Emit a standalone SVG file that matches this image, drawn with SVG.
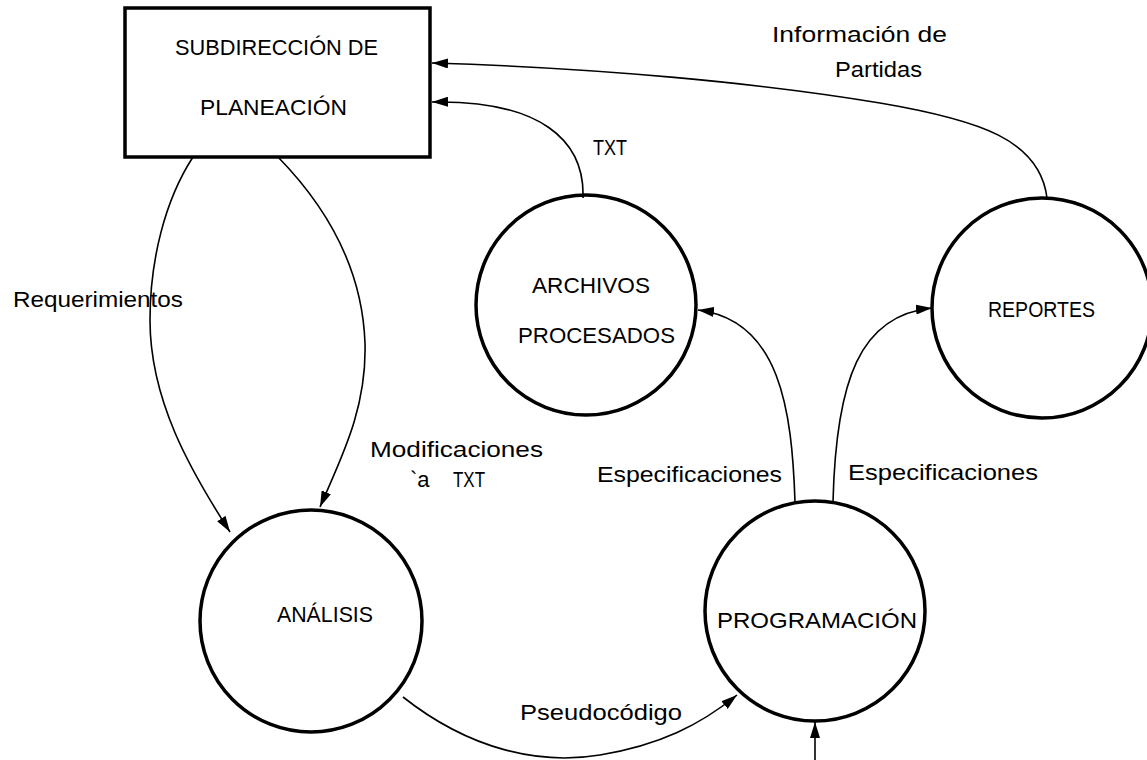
<svg xmlns="http://www.w3.org/2000/svg" width="1147" height="760" viewBox="0 0 1147 760">
  <style>
    .node { fill: none; stroke: #000; stroke-width: 3.5; }
    .lbl { font-family: "Liberation Sans", Arial, sans-serif; font-size: 22px; fill: #000; }
    .flow { fill: none; stroke: #000; stroke-width: 1.6; }
  </style>
  <defs>
    <marker id="arrow" markerUnits="userSpaceOnUse" markerWidth="17" markerHeight="10" refX="16" refY="5" orient="auto">
      <path d="M0,0 L16,5 L0,10 z" fill="#000"/>
    </marker>
  </defs>
  <rect width="1147" height="760" fill="#fff"/>

  <!-- data flows -->
  <g id="connectors">
    <path class="flow" d="M193,157 C165,200 150,260 150,320 C150,400 190,470 230,532" marker-end="url(#arrow)"/>
    <path class="flow" d="M278,157 C320,200 362,260 365,343 C367,410 340,460 320,507" marker-end="url(#arrow)"/>
    <path class="flow" d="M583,198 C585,140 540,100 432,102" marker-end="url(#arrow)"/>
    <path class="flow" d="M1047,198 C1040,140 980,120 880,103 C760,83 600,68 432,63" marker-end="url(#arrow)"/>
    <path class="flow" d="M795,502 C792,410 780,320 698,310" marker-end="url(#arrow)"/>
    <path class="flow" d="M833,502 C836,380 860,315 932,308" marker-end="url(#arrow)"/>
    <path class="flow" d="M403,697 C470,750 540,765 600,755 C660,745 700,725 737,695" marker-end="url(#arrow)"/>
    <path class="flow" d="M815,760 L815,722" marker-end="url(#arrow)"/>
  </g>

  <!-- flow labels -->
  <g id="flow-labels">
    <text class="lbl" x="772" y="42" textLength="175" lengthAdjust="spacingAndGlyphs">Información de</text>
    <text class="lbl" x="835" y="77" textLength="87" lengthAdjust="spacingAndGlyphs">Partidas</text>
    <text class="lbl" x="593" y="155" textLength="34" lengthAdjust="spacingAndGlyphs">TXT</text>
    <text class="lbl" x="13" y="307" textLength="170" lengthAdjust="spacingAndGlyphs">Requerimientos</text>
    <text class="lbl" x="370" y="457" textLength="173" lengthAdjust="spacingAndGlyphs">Modificaciones</text>
    <text class="lbl" y="487"><tspan x="410">`a</tspan><tspan x="453" textLength="32" lengthAdjust="spacingAndGlyphs">TXT</tspan></text>
    <text class="lbl" x="597" y="482" textLength="185" lengthAdjust="spacingAndGlyphs">Especificaciones</text>
    <text class="lbl" x="848" y="480" textLength="190" lengthAdjust="spacingAndGlyphs">Especificaciones</text>
    <text class="lbl" x="520" y="720" textLength="162" lengthAdjust="spacingAndGlyphs">Pseudocódigo</text>
  </g>

  <g id="subdireccion">
    <rect class="node" x="125" y="8" width="305" height="149"/>
    <text class="lbl" x="175" y="55" textLength="203" lengthAdjust="spacingAndGlyphs">SUBDIRECCIÓN DE</text>
    <text class="lbl" x="200" y="115" textLength="147" lengthAdjust="spacingAndGlyphs">PLANEACIÓN</text>
  </g>

  <g id="archivos">
    <circle class="node" cx="586" cy="305" r="110"/>
    <text class="lbl" x="532" y="293" textLength="118" lengthAdjust="spacingAndGlyphs">ARCHIVOS</text>
    <text class="lbl" x="518" y="343" textLength="157" lengthAdjust="spacingAndGlyphs">PROCESADOS</text>
  </g>

  <g id="reportes">
    <circle class="node" cx="1042" cy="308" r="110"/>
    <text class="lbl" x="988" y="317" textLength="107" lengthAdjust="spacingAndGlyphs">REPORTES</text>
  </g>

  <g id="analisis">
    <circle class="node" cx="311" cy="621" r="111"/>
    <text class="lbl" x="277" y="622" textLength="96" lengthAdjust="spacingAndGlyphs">ANÁLISIS</text>
  </g>

  <g id="programacion">
    <circle class="node" cx="815" cy="611" r="110"/>
    <text class="lbl" x="717" y="628" textLength="200" lengthAdjust="spacingAndGlyphs">PROGRAMACIÓN</text>
  </g>
</svg>
